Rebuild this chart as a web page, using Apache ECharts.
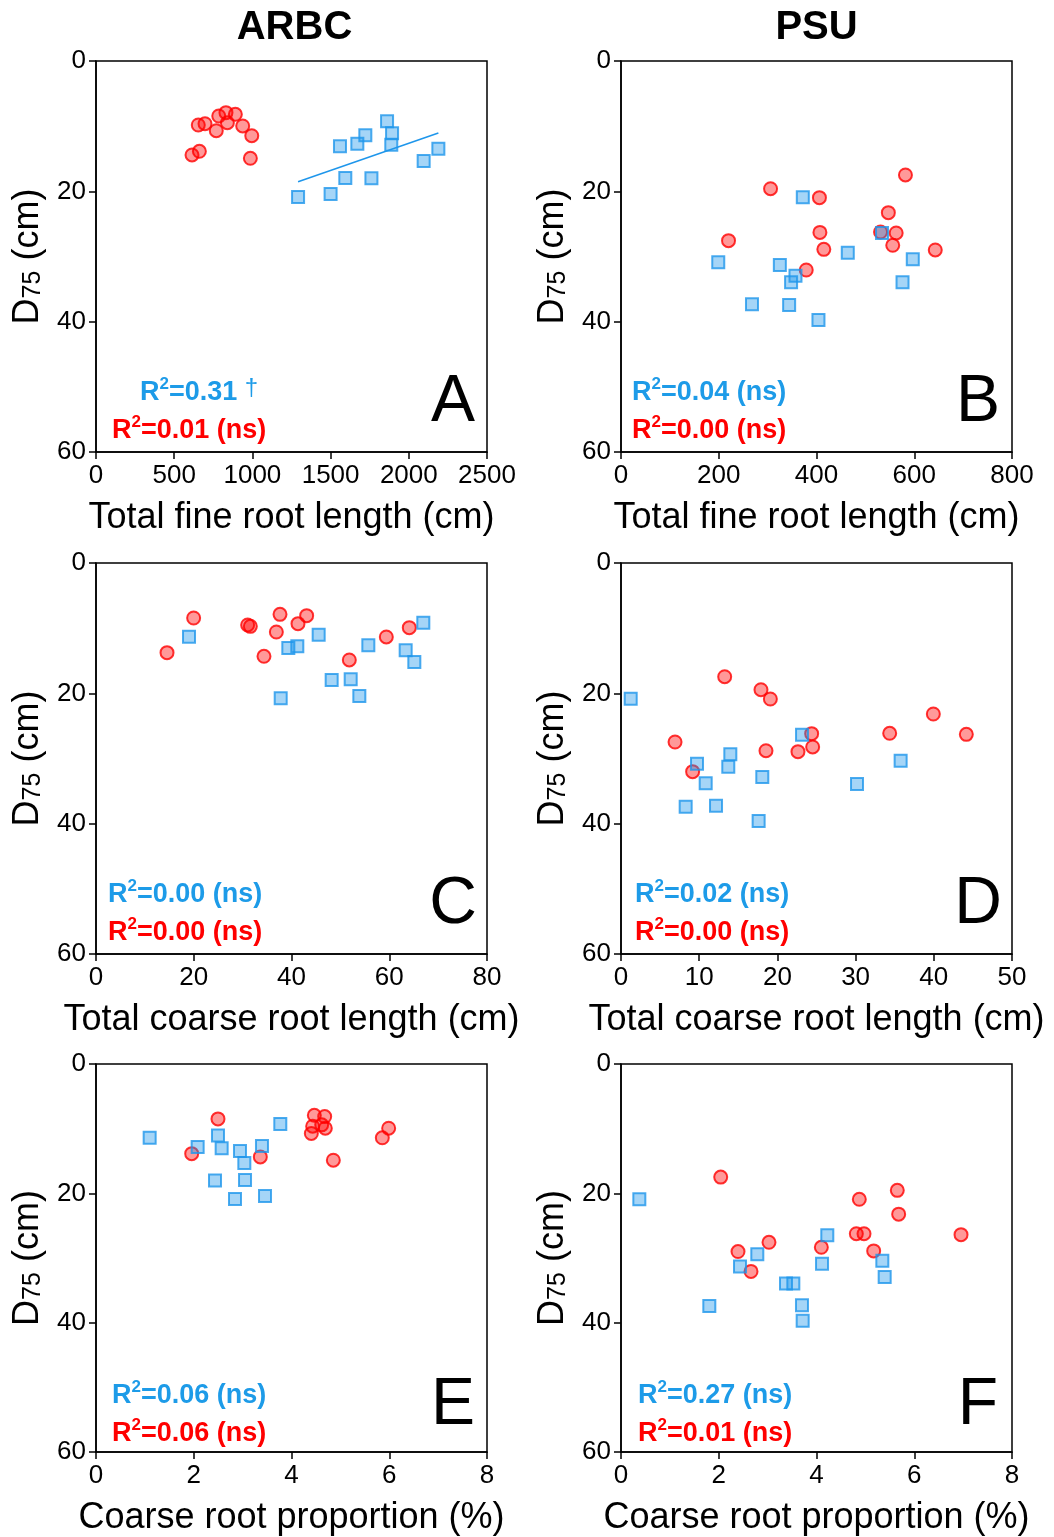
<!DOCTYPE html>
<html><head><meta charset="utf-8">
<script src="https://cdn.jsdelivr.net/npm/echarts/dist/echarts.min.js"></script>
<style>html,body{margin:0;padding:0;background:#fff}#c{width:1054px;height:1537px}</style>
</head><body><div id="c"></div>
<script>
// ---------- DATA (x, D75 in cm) ----------
const arbcFineRed = [[654,9.82],[697,9.62],[785,8.44],[831,7.93],[891,8.18],[840,9.47],[769,10.7],[938,9.97],[996,11.46],[614,14.42],[661,13.86],[987,14.93]];
const arbcFineBlue = [[1861,9.26],[1893,11.1],[1722,11.4],[1671,12.68],[1560,13.1],[1888,12.84],[2189,13.45],[2095,15.35],[1594,17.95],[1761,18.0],[1500,20.4],[1292,20.87]];
const psuFineRed = [[582,17.49],[306,19.6],[406,20.97],[547,23.27],[407,26.3],[531,26.24],[563,26.39],[220,27.57],[415,28.9],[556,28.28],[643,29.0],[379,32.07]];
const psuFineBlue = [[372,20.92],[534,26.39],[464,29.41],[597,30.43],[199,30.89],[325,31.3],[357,32.94],[348,33.96],[576,33.96],[268,37.34],[344,37.44],[404,39.74]];
const arbcCoarseRed = [[19.98,8.44],[14.53,13.76],[31.03,9.51],[31.58,9.72],[37.65,7.88],[36.9,10.59],[41.33,9.31],[43.1,8.08],[34.37,14.32],[51.83,14.88],[59.4,11.35],[64.1,9.92]];
const arbcCoarseBlue = [[19.03,11.3],[66.97,9.16],[45.56,11.0],[39.35,13.04],[41.19,12.79],[55.72,12.63],[63.36,13.4],[65.13,15.19],[48.22,17.95],[52.11,17.85],[53.88,20.41],[37.79,20.76]];
const psuCoarseRed = [[13.26,17.45],[17.9,19.44],[19.1,20.87],[39.94,23.17],[34.36,26.13],[44.16,26.29],[24.38,26.19],[6.91,27.47],[24.51,28.23],[18.54,28.8],[22.63,28.95],[9.16,32.02]];
const psuCoarseBlue = [[1.24,20.82],[23.15,26.35],[13.98,29.35],[35.76,30.33],[9.72,30.8],[13.72,31.26],[18.07,32.84],[10.83,33.81],[30.18,33.91],[8.27,37.39],[12.15,37.24],[17.6,39.59]];
const arbcPropRed = [[2.496,8.49],[1.958,13.86],[3.362,14.37],[4.467,7.93],[4.679,8.13],[4.618,9.41],[4.433,9.62],[4.692,9.93],[4.406,10.74],[5.988,9.93],[5.858,11.41],[4.856,14.88]];
const arbcPropBlue = [[1.098,11.41],[3.771,9.26],[2.496,11.05],[2.08,12.84],[2.571,13.04],[3.396,12.68],[2.946,13.45],[3.035,15.29],[2.435,18.0],[3.049,17.95],[2.844,20.87],[3.458,20.41]];
const psuPropRed = [[2.04,17.49],[5.653,19.54],[4.876,20.92],[5.681,23.22],[4.815,26.24],[4.972,26.24],[6.957,26.39],[3.028,27.57],[4.099,28.34],[2.394,29.0],[5.17,28.9],[2.66,32.07]];
const psuPropBlue = [[0.375,20.92],[4.221,26.5],[2.789,29.41],[5.347,30.43],[2.435,31.3],[4.113,30.89],[5.395,32.94],[3.376,33.96],[3.526,33.96],[1.807,37.44],[3.703,37.29],[3.717,39.7]];

// ---------- TICKS / TEXT ----------
const yTicks = [0, 20, 40, 60];
const fineTicksARBC = [0, 500, 1000, 1500, 2000, 2500];
const fineTicksPSU = [0, 200, 400, 600, 800];
const coarseTicksARBC = [0, 20, 40, 60, 80];
const coarseTicksPSU = [0, 10, 20, 30, 40, 50];
const propTicks = [0, 2, 4, 6, 8];
const columnTitles = ['ARBC', 'PSU'];
const xNames = ['Total fine root length (cm)', 'Total fine root length (cm)', 'Total coarse root length (cm)', 'Total coarse root length (cm)', 'Coarse root proportion (%)', 'Coarse root proportion (%)'];
const panelLetters = ['A', 'B', 'C', 'D', 'E', 'F'];
const r2Blue = ['0.31', '0.04', '0.00', '0.02', '0.06', '0.27'];
const sigBlue = ['†', 'ns', 'ns', 'ns', 'ns', 'ns'];
const r2Red = ['0.01', '0.00', '0.00', '0.00', '0.06', '0.01'];
const sigRed = ['ns', 'ns', 'ns', 'ns', 'ns', 'ns'];

// ---------- LAYOUT ----------
const FONT = "'Liberation Sans', Arial, sans-serif";
const BLUE = '#1E96EB', BLUE_FILL = 'rgba(30,150,235,0.5)';
const RED = '#FF0000', RED_FILL = 'rgba(255,0,0,0.5)';
const TEXT_BLUE = '#1D9BE8';
const colLeft = [96, 621], rowTop = [61, 563, 1064], SIZE = 391;
const textLeftBlue = [140, 632, 108, 635, 112, 638];
const textLeftRed = [112, 632, 108, 635, 112, 638];

const panels = [
  {blue: arbcFineBlue, red: arbcFineRed, ticks: fineTicksARBC, fit: true},
  {blue: psuFineBlue, red: psuFineRed, ticks: fineTicksPSU},
  {blue: arbcCoarseBlue, red: arbcCoarseRed, ticks: coarseTicksARBC},
  {blue: psuCoarseBlue, red: psuCoarseRed, ticks: coarseTicksPSU},
  {blue: arbcPropBlue, red: arbcPropRed, ticks: propTicks},
  {blue: psuPropBlue, red: psuPropRed, ticks: propTicks}
];

function linFit(pts) {
  const n = pts.length;
  let mx = 0, my = 0;
  pts.forEach(p => { mx += p[0]; my += p[1]; });
  mx /= n; my /= n;
  let sxy = 0, sxx = 0;
  pts.forEach(p => { sxy += (p[0] - mx) * (p[1] - my); sxx += (p[0] - mx) ** 2; });
  const b = sxy / sxx, a = my - b * mx;
  const xs = pts.map(p => p[0]);
  const x0 = Math.min(...xs), x1 = Math.max(...xs);
  return [[x0, a + b * x0], [x1, a + b * x1]];
}

const grids = [], xAxes = [], yAxes = [], series = [], graphics = [];
panels.forEach((p, i) => {
  const col = i % 2, row = Math.floor(i / 2);
  const left = colLeft[col], top = rowTop[row];
  grids.push({left: left, top: top, width: SIZE, height: SIZE, show: true, borderColor: '#000', borderWidth: 1.5, backgroundColor: 'transparent'});
  const t = p.ticks;
  xAxes.push({
    gridIndex: i, type: 'value', min: t[0], max: t[t.length - 1], interval: t[1] - t[0],
    name: xNames[i], nameLocation: 'middle', nameGap: 48,
    nameTextStyle: {fontSize: 36, color: '#000', fontFamily: FONT},
    axisLine: {show: true, onZero: false, lineStyle: {color: '#000', width: 1.5}},
    axisTick: {show: true, length: 7, lineStyle: {color: '#000', width: 1.5}},
    axisLabel: {fontSize: 26, color: '#000', margin: 11, fontFamily: FONT, showMinLabel: true, showMaxLabel: true, formatter: v => String(v)},
    splitLine: {show: false}
  });
  yAxes.push({
    gridIndex: i, type: 'value', inverse: true, min: yTicks[0], max: yTicks[yTicks.length - 1], interval: yTicks[1] - yTicks[0],
    name: '{m|D}{s|75}{m| (cm)}', nameLocation: 'middle', nameRotate: 90, nameGap: 50,
    nameTextStyle: {color: '#000', fontFamily: FONT, rich: {
      m: {fontSize: 36, lineHeight: 36, verticalAlign: 'top', fontFamily: FONT, color: '#000'},
      s: {fontSize: 25, lineHeight: 25, verticalAlign: 'bottom', padding: [16, 0, 0, 0], fontFamily: FONT, color: '#000'}
    }},
    axisLine: {show: true, onZero: false, lineStyle: {color: '#000', width: 1.5}},
    axisTick: {show: true, length: 7, lineStyle: {color: '#000', width: 1.5}},
    axisLabel: {fontSize: 26, color: '#000', margin: 10, fontFamily: FONT, showMinLabel: true, showMaxLabel: true, formatter: v => String(v)},
    splitLine: {show: false}
  });
  series.push({type: 'scatter', xAxisIndex: i, yAxisIndex: i, data: p.red, symbol: 'circle', symbolSize: 13, silent: true,
    itemStyle: {color: RED_FILL, borderColor: RED, borderWidth: 2}});
  series.push({type: 'scatter', xAxisIndex: i, yAxisIndex: i, data: p.blue, symbol: 'rect', symbolSize: 12, silent: true,
    itemStyle: {color: BLUE_FILL, borderColor: BLUE, borderWidth: 2}});
  if (p.fit) {
    series.push({type: 'line', xAxisIndex: i, yAxisIndex: i, data: linFit(p.blue), showSymbol: false, silent: true,
      lineStyle: {color: BLUE, width: 1.5}});
  }
  const rich = {
    b: {fontSize: 27, fontWeight: 'bold', lineHeight: 30, verticalAlign: 'bottom', fontFamily: FONT},
    sup: {fontSize: 17, fontWeight: 'bold', lineHeight: 17, verticalAlign: 'top', fontFamily: FONT},
    dag: {fontSize: 24, fontWeight: 'normal', lineHeight: 22, verticalAlign: 'top', fontFamily: FONT}
  };
  const blueTxt = sigBlue[i] === '†' ? '{b|R}{sup|2}{b|=' + r2Blue[i] + ' }{dag|†}' : '{b|R}{sup|2}{b|=' + r2Blue[i] + ' (' + sigBlue[i] + ')}';
  const redTxt = '{b|R}{sup|2}{b|=' + r2Red[i] + ' (' + sigRed[i] + ')}';
  graphics.push({type: 'text', x: textLeftBlue[i], y: top + 330, style: {text: blueTxt, rich: rich, fill: TEXT_BLUE, align: 'left', verticalAlign: 'middle'}});
  graphics.push({type: 'text', x: textLeftRed[i], y: top + 368, style: {text: redTxt, rich: rich, fill: RED, align: 'left', verticalAlign: 'middle'}});
  graphics.push({type: 'text', x: left + SIZE - 34, y: top + 342, style: {text: panelLetters[i], fill: '#000', font: '66px ' + FONT, align: 'center', verticalAlign: 'middle'}});
});
columnTitles.forEach((t, c) => {
  graphics.push({type: 'text', x: colLeft[c] + SIZE / 2 + (c === 0 ? 3 : 0), y: 28, style: {text: t, fill: '#000', font: 'bold 40px ' + FONT, align: 'center', verticalAlign: 'middle'}});
});

const chart = echarts.init(document.getElementById('c'), null, {renderer: 'canvas'});
chart.setOption({
  animation: false,
  backgroundColor: '#fff',
  textStyle: {fontFamily: FONT},
  grid: grids, xAxis: xAxes, yAxis: yAxes, series: series, graphic: graphics
});
</script>
</body></html>
